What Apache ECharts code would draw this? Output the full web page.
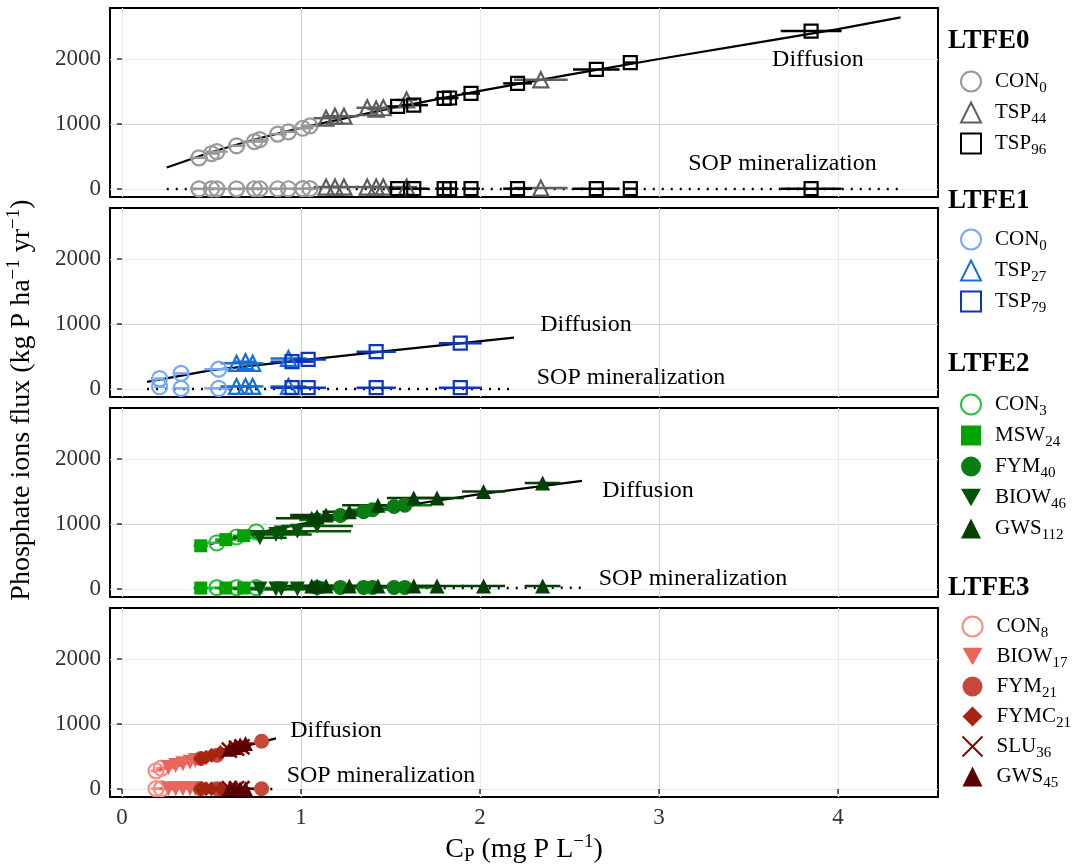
<!DOCTYPE html>
<html><head><meta charset="utf-8">
<script src="https://cdn.jsdelivr.net/npm/echarts@6/dist/echarts.min.js"></script>
<style>html,body{margin:0;padding:0;background:#fff}#c{width:1083px;height:865px}</style>
</head><body><div id="c"></div>
<script>
const FONT = '"Liberation Serif","Times New Roman",serif';

// ---------------- axis ticks ----------------
const xTicks = [0, 1, 2, 3, 4];
const yTicks = [0, 1000, 2000];

// ---------------- LTFE0 ----------------
const L0_CON0_x   = [0.43, 0.50, 0.53, 0.64, 0.74, 0.77, 0.87, 0.93, 1.01, 1.05];
const L0_CON0_dif = [480, 545, 575, 665, 730, 760, 845, 880, 935, 970];
const L0_CON0_sop = [3, 3, 3, 3, 4, 4, 4, 4, 5, 5];
const L0_CON0_err = [0.05, 0.04, 0.06, 0.05, 0.07, 0.05, 0.05, 0.04, 0.06, 0.05];

const L0_TSP44_x   = [1.14, 1.19, 1.24, 1.37, 1.42, 1.46, 1.59, 2.34];
const L0_TSP44_dif = [1090, 1120, 1120, 1250, 1230, 1250, 1370, 1680];
const L0_TSP44_sop = [30, 30, 30, 30, 30, 30, 30, 15];
const L0_TSP44_err = [0.07, 0.06, 0.08, 0.06, 0.05, 0.07, 0.06, 0.15];

const L0_TSP96_x   = [1.54, 1.63, 1.80, 1.83, 1.95, 2.21, 2.65, 2.84, 3.85];
const L0_TSP96_dif = [1270, 1290, 1395, 1400, 1470, 1625, 1840, 1945, 2430];
const L0_TSP96_sop = [5, 5, 5, 5, 5, 5, 5, 5, 5];
const L0_TSP96_err = [0.06, 0.08, 0.05, 0.05, 0.05, 0.08, 0.13, 0.04, 0.17];

const L0_diffLineX = [0.25, 0.5, 0.75, 1.0, 1.5, 2.0, 2.5, 3.0, 3.5, 4.0, 4.35];
const L0_diffLineY = [330, 570, 770, 940, 1240, 1510, 1760, 2000, 2230, 2460, 2640];
const L0_sopLineX  = [0.25, 4.35];
const L0_sopLineY  = [0, 0];

// ---------------- LTFE1 ----------------
const L1_CON0_x   = [0.21, 0.33, 0.54];
const L1_CON0_dif = [160, 240, 305];
const L1_CON0_sop = [35, 10, 10];
const L1_CON0_err = [0.03, 0.04, 0.08];

const L1_TSP27_x   = [0.64, 0.69, 0.73, 0.93];
const L1_TSP27_dif = [395, 420, 395, 470];
const L1_TSP27_sop = [40, 40, 40, 40];
const L1_TSP27_err = [0.09, 0.06, 0.06, 0.10];

const L1_TSP79_x   = [0.95, 1.04, 1.42, 1.89];
const L1_TSP79_dif = [420, 455, 575, 705];
const L1_TSP79_sop = [20, 20, 20, 20];
const L1_TSP79_err = [0.12, 0.10, 0.11, 0.12];

const L1_diffLineX = [0.14, 0.5, 1.0, 1.5, 2.19];
const L1_diffLineY = [110, 290, 440, 590, 790];
const L1_sopLineX  = [0.14, 2.19];
const L1_sopLineY  = [0, 0];

// ---------------- LTFE2 ----------------
const L2_CON3_x   = [0.53, 0.64, 0.75];
const L2_CON3_dif = [710, 800, 880];
const L2_CON3_sop = [20, 20, 20];
const L2_CON3_err = [0.06, 0.08, 0.08];

const L2_MSW24_x   = [0.44, 0.58, 0.68];
const L2_MSW24_dif = [665, 760, 820];
const L2_MSW24_sop = [15, 15, 15];
const L2_MSW24_err = [0.04, 0.06, 0.06];

const L2_FYM40_x   = [1.09, 1.22, 1.35, 1.40, 1.52, 1.58];
const L2_FYM40_dif = [1060, 1130, 1190, 1220, 1270, 1290];
const L2_FYM40_sop = [25, 25, 25, 25, 25, 25];
const L2_FYM40_err = [0.10, 0.12, 0.10, 0.12, 0.10, 0.15];

const L2_BIOW46_x   = [0.77, 0.86, 0.89, 0.98, 1.09];
const L2_BIOW46_dif = [790, 840, 860, 890, 970];
const L2_BIOW46_sop = [0, 0, 0, 0, 0];
const L2_BIOW46_err = [0.15, 0.20, 0.15, 0.30, 0.20];

const L2_GWS112_x   = [1.06, 1.09, 1.14, 1.27, 1.43, 1.63, 1.76, 2.02, 2.35];
const L2_GWS112_dif = [1090, 1110, 1140, 1190, 1290, 1400, 1400, 1500, 1630];
const L2_GWS112_sop = [45, 45, 45, 45, 45, 45, 45, 45, 45];
const L2_GWS112_err = [0.20, 0.15, 0.20, 0.15, 0.20, 0.15, 0.15, 0.12, 0.10];

const L2_diffLineX = [0.49, 0.75, 1.0, 1.5, 2.0, 2.57];
const L2_diffLineY = [690, 860, 1000, 1250, 1460, 1665];
const L2_sopLineX  = [0.44, 2.6];
const L2_sopLineY  = [5, 20];

// ---------------- LTFE3 ----------------
const L3_CON8_x   = [0.19, 0.22];
const L3_CON8_dif = [280, 320];
const L3_CON8_sop = [5, 5];
const L3_CON8_err = [0.03, 0.03];

const L3_BIOW17_x   = [0.26, 0.30, 0.34, 0.38, 0.41];
const L3_BIOW17_dif = [330, 360, 390, 410, 440];
const L3_BIOW17_sop = [5, 5, 5, 5, 5];
const L3_BIOW17_err = [0.05, 0.05, 0.05, 0.05, 0.05];

const L3_FYM21_x   = [0.44, 0.53, 0.78];
const L3_FYM21_dif = [470, 520, 735];
const L3_FYM21_sop = [5, 5, 5];
const L3_FYM21_err = [0.05, 0.05, 0.04];

const L3_FYMC21_x   = [0.44, 0.47, 0.50, 0.55];
const L3_FYMC21_dif = [470, 490, 520, 560];
const L3_FYMC21_sop = [5, 5, 5, 5];
const L3_FYMC21_err = [0.05, 0.05, 0.05, 0.05];

const L3_SLU36_x   = [0.60, 0.64, 0.67];
const L3_SLU36_dif = [600, 630, 650];
const L3_SLU36_sop = [5, 5, 5];
const L3_SLU36_err = [0.05, 0.05, 0.05];

const L3_GWS45_x   = [0.60, 0.63, 0.66, 0.69];
const L3_GWS45_dif = [610, 640, 680, 700];
const L3_GWS45_sop = [5, 5, 5, 5];
const L3_GWS45_err = [0.05, 0.05, 0.05, 0.05];

const L3_diffLineX = [0.175, 0.5, 0.86];
const L3_diffLineY = [265, 530, 780];
const L3_sopLineX  = [0.175, 0.86];
const L3_sopLineY  = [0, 0];

// ---------------- assembly (styles separate from data) ----------------
const DOWN_TRI = 'path://M0,0L10,0L5,8.66Z';
const panels = [
  { title: 'LTFE0', dl: [L0_diffLineX, L0_diffLineY], sl: [L0_sopLineX, L0_sopLineY],
    tr: [
      { lab: ['CON', '0'],  d: [L0_CON0_x, L0_CON0_dif, L0_CON0_sop, L0_CON0_err], col: '#999999', sym: 'circle', open: true },
      { lab: ['TSP', '44'], d: [L0_TSP44_x, L0_TSP44_dif, L0_TSP44_sop, L0_TSP44_err], col: '#5e5e5e', sym: 'triangle', open: true },
      { lab: ['TSP', '96'], d: [L0_TSP96_x, L0_TSP96_dif, L0_TSP96_sop, L0_TSP96_err], col: '#000000', sym: 'rect', open: true }
    ] },
  { title: 'LTFE1', dl: [L1_diffLineX, L1_diffLineY], sl: [L1_sopLineX, L1_sopLineY],
    tr: [
      { lab: ['CON', '0'],  d: [L1_CON0_x, L1_CON0_dif, L1_CON0_sop, L1_CON0_err], col: '#76a8f7', sym: 'circle', open: true },
      { lab: ['TSP', '27'], d: [L1_TSP27_x, L1_TSP27_dif, L1_TSP27_sop, L1_TSP27_err], col: '#1470d6', sym: 'triangle', open: true },
      { lab: ['TSP', '79'], d: [L1_TSP79_x, L1_TSP79_dif, L1_TSP79_sop, L1_TSP79_err], col: '#0a38b8', sym: 'rect', open: true }
    ] },
  { title: 'LTFE2', dl: [L2_diffLineX, L2_diffLineY], sl: [L2_sopLineX, L2_sopLineY],
    tr: [
      { lab: ['CON', '3'],   d: [L2_CON3_x, L2_CON3_dif, L2_CON3_sop, L2_CON3_err], col: '#2fbf45', sym: 'circle', open: true },
      { lab: ['MSW', '24'],  d: [L2_MSW24_x, L2_MSW24_dif, L2_MSW24_sop, L2_MSW24_err], col: '#00a300', sym: 'rect' },
      { lab: ['FYM', '40'],  d: [L2_FYM40_x, L2_FYM40_dif, L2_FYM40_sop, L2_FYM40_err], col: '#0a7d12', sym: 'circle' },
      { lab: ['BIOW', '46'], d: [L2_BIOW46_x, L2_BIOW46_dif, L2_BIOW46_sop, L2_BIOW46_err], col: '#005505', sym: 'triangle', rot: 180 },
      { lab: ['GWS', '112'], d: [L2_GWS112_x, L2_GWS112_dif, L2_GWS112_sop, L2_GWS112_err], col: '#063f06', sym: 'triangle' }
    ] },
  { title: 'LTFE3', dl: [L3_diffLineX, L3_diffLineY], sl: [L3_sopLineX, L3_sopLineY],
    tr: [
      { lab: ['CON', '8'],   d: [L3_CON8_x, L3_CON8_dif, L3_CON8_sop, L3_CON8_err], col: '#f98c80', sym: 'circle', open: true },
      { lab: ['BIOW', '17'], d: [L3_BIOW17_x, L3_BIOW17_dif, L3_BIOW17_sop, L3_BIOW17_err], col: '#e8675d', sym: 'triangle', rot: 180 },
      { lab: ['FYM', '21'],  d: [L3_FYM21_x, L3_FYM21_dif, L3_FYM21_sop, L3_FYM21_err], col: '#c8473b', sym: 'circle' },
      { lab: ['FYMC', '21'], d: [L3_FYMC21_x, L3_FYMC21_dif, L3_FYMC21_sop, L3_FYMC21_err], col: '#a52610', sym: 'diamond' },
      { lab: ['SLU', '36'],  d: [L3_SLU36_x, L3_SLU36_dif, L3_SLU36_sop, L3_SLU36_err], col: '#8b0000', sym: 'path://M0,0L10,10M10,0L0,10', cross: true },
      { lab: ['GWS', '45'],  d: [L3_GWS45_x, L3_GWS45_dif, L3_GWS45_sop, L3_GWS45_err], col: '#5a0000', sym: 'triangle' }
    ] }
];

// layout
const panelTop = [8, 208, 408, 608];
const panelH = 189;
const gridLeft = 110, gridW = 828;
const annot = [
  { d: [3.888, 1985], s: [3.69, 385] },
  { d: [2.592, 985], s: [2.844, 169] },
  { d: [2.939, 1508], s: [3.19, 154] },
  { d: [1.196, 900], s: [1.447, 200] }
];
const legendTop = [62, 220, 385, 607];
const legendGap = [2, 2, 2, 1];
const legTitleY = [41, 201, 364, 588];

const labelMap = {};
const grids = [], xAxes = [], yAxes = [], series = [], legends = [], graphics = [];

function errRender(params, api) {
  const x = api.value(0), y = api.value(1), e = api.value(2);
  const a = api.coord([x - e, y]), b = api.coord([x + e, y]);
  return { type: 'line', shape: { x1: a[0], y1: a[1], x2: b[0], y2: b[1] },
           style: { stroke: api.visual('color'), lineWidth: 2.5 } };
}

panels.forEach((P, p) => {
  grids.push({ left: gridLeft, top: panelTop[p], width: gridW, height: panelH, show: true,
               backgroundColor: '#fff', borderColor: '#000', borderWidth: 2, containLabel: false });
  xAxes.push({
    gridIndex: p, type: 'value', min: -0.067, max: 4.559, splitNumber: 9, minInterval: 0.5, maxInterval: 0.5,
    axisLine: { show: false },
    axisTick: { show: p === 3, customValues: xTicks, length: 5, lineStyle: { color: '#333', width: 1.5 } },
    axisLabel: { show: p === 3, customValues: xTicks, formatter: v => String(v),
                 fontFamily: FONT, fontSize: 23, color: '#333', margin: 9 },
    splitLine: { show: true, lineStyle: { color: ['#ececec', '#d3d3d3'], width: 1.2 } }
  });
  yAxes.push({
    gridIndex: p, type: 'value', min: -123, max: 2785, splitNumber: 6, minInterval: 500, maxInterval: 500,
    axisLine: { show: false },
    axisTick: { show: true, customValues: yTicks, length: 5, lineStyle: { color: '#333', width: 1.5 } },
    axisLabel: { show: true, customValues: yTicks, formatter: v => String(v),
                 fontFamily: FONT, fontSize: 23, color: '#333', margin: 9 },
    splitLine: { show: true, lineStyle: { color: ['#ececec', '#d3d3d3'], width: 1.2 } }
  });

  // regression lines
  series.push({
    type: 'line', xAxisIndex: p, yAxisIndex: p, silent: true, symbol: 'none', z: 3,
    data: P.dl[0].map((x, i) => [x, P.dl[1][i]]),
    lineStyle: { color: '#000', width: 2.2 },
    markPoint: { symbol: 'circle', symbolSize: 0, silent: true,
      label: { show: true, position: 'inside', fontFamily: FONT, fontSize: 24, color: '#000' },
      data: [ { coord: annot[p].d, label: { formatter: 'Diffusion' } },
              { coord: annot[p].s, label: { formatter: 'SOP mineralization' } } ] }
  });
  series.push({
    type: 'line', xAxisIndex: p, yAxisIndex: p, silent: true, symbol: 'none', z: 3,
    data: P.sl[0].map((x, i) => [x, P.sl[1][i]]),
    lineStyle: { color: '#000', width: 2.5, type: [2, 7] }
  });

  const legData = [];
  P.tr.forEach(T => {
    const name = P.title + '_' + T.lab.join('');
    legData.push(T.rot ? { name, icon: DOWN_TRI } : { name });
    labelMap[name] = T.lab;
    const [xs, dif, sop, err] = T.d;
    const errPts = xs.map((x, i) => [x, dif[i], err[i]]).concat(xs.map((x, i) => [x, sop[i], err[i]]));
    series.push({
      type: 'custom', xAxisIndex: p, yAxisIndex: p, silent: true, z: 4,
      encode: { x: 0, y: 1 }, data: errPts, renderItem: errRender,
      itemStyle: { color: T.col }
    });
    const pts = xs.map((x, i) => [x, dif[i]]).concat(xs.map((x, i) => [x, sop[i]]));
    let itemStyle;
    if (T.cross) itemStyle = { color: 'none', borderColor: T.col, borderWidth: 2.5, opacity: 1 };
    else if (T.open) itemStyle = { color: 'rgba(255,255,255,0)', borderColor: T.col, borderWidth: 2.2, opacity: 1 };
    else itemStyle = { color: T.col, borderWidth: 0, opacity: 1 };
    series.push({
      type: 'scatter', name, xAxisIndex: p, yAxisIndex: p, silent: true, z: 5,
      data: pts, symbol: T.sym, symbolSize: T.sym === 'rect' ? 13 : 15, symbolRotate: T.rot || 0,
      symbolKeepAspect: true, itemStyle
    });
  });

  legends.push({
    orient: 'vertical', left: 955, top: legendTop[p], itemWidth: 20, itemHeight: 20, itemGap: legendGap[p],
    selectedMode: false, data: legData, symbolKeepAspect: true,
    formatter: n => '{m|' + labelMap[n][0] + '}{s|' + labelMap[n][1] + '}',
    textStyle: { fontFamily: FONT, fontSize: 21, color: '#000',
      rich: { m: { fontFamily: FONT, fontSize: 21, lineHeight: 24, color: '#000', padding: [0, 0, 0, 9] },
              s: { fontFamily: FONT, fontSize: 15, lineHeight: 15, padding: [14, 0, 0, 0], color: '#000' } } }
  });
  graphics.push({ type: 'text', x: 948, y: legTitleY[p], silent: true,
    style: { text: P.title, fontFamily: FONT, fontSize: 27, fontWeight: 'bold', fill: '#000',
             textAlign: 'left', textVerticalAlign: 'middle' } });
});

// axis titles
graphics.push({ type: 'text', x: 22, y: 400, rotation: Math.PI / 2, silent: true,
  style: { text: '{a|Phosphate ions flux (kg P ha}{p|\u22121}{a| yr}{p|\u22121}{a|)}',
    textAlign: 'center', textVerticalAlign: 'middle',
    rich: { a: { fontFamily: FONT, fontSize: 28, lineHeight: 32, fill: '#000' },
            p: { fontFamily: FONT, fontSize: 19, lineHeight: 19, padding: [0, 0, 15, 0], fill: '#000' } } } });
graphics.push({ type: 'text', x: 524, y: 850, silent: true,
  style: { text: '{a|C}{b|P}{a| (mg P L}{p|\u22121}{a|)}',
    textAlign: 'center', textVerticalAlign: 'middle',
    rich: { a: { fontFamily: FONT, fontSize: 28, lineHeight: 32, fill: '#000' },
            b: { fontFamily: FONT, fontSize: 19, lineHeight: 19, padding: [13, 0, 0, 0], fill: '#000' },
            p: { fontFamily: FONT, fontSize: 19, lineHeight: 19, padding: [0, 0, 15, 0], fill: '#000' } } } });

const chart = echarts.init(document.getElementById('c'), null, { renderer: 'canvas' });
chart.setOption({
  animation: false,
  backgroundColor: '#fff',
  grid: grids, xAxis: xAxes, yAxis: yAxes, series, legend: legends, graphic: graphics
});
</script></body></html>
